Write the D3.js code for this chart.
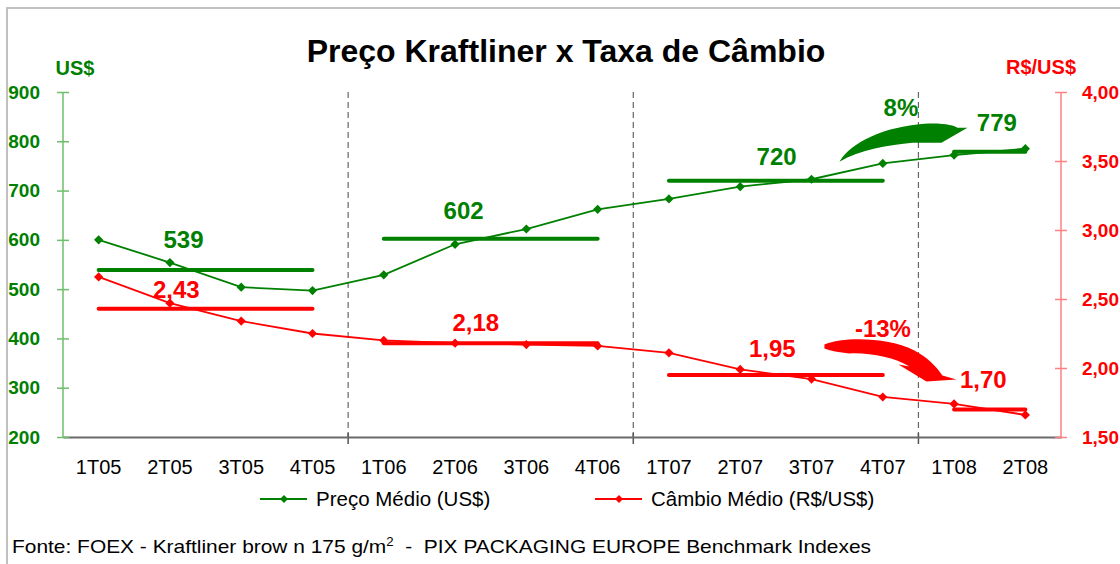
<!DOCTYPE html>
<html>
<head>
<meta charset="utf-8">
<script src="https://cdn.jsdelivr.net/npm/d3@7"></script>
<style>
  html, body { margin: 0; padding: 0; background: #fff; }
  svg { display: block; font-family: "Liberation Sans", Arial, sans-serif; }
</style>
</head>
<body>
<svg id="chart" width="1120" height="564"></svg>
<script>
// Dados
const quarters = ["1T05","2T05","3T05","4T05","1T06","2T06","3T06","4T06","1T07","2T07","3T07","4T07","1T08","2T08"];
const precoMedio  = [600, 554, 504, 497, 529, 591, 622, 662, 683, 708, 723, 755, 772, 785];
const cambioMedio = [2.66, 2.47, 2.34, 2.25, 2.20, 2.18, 2.17, 2.16, 2.11, 1.99, 1.92, 1.79, 1.74, 1.66];
const periodStart = ["1T05", "1T06", "1T07", "1T08"];
const periodEnd   = ["4T05", "4T06", "4T07", "2T08"];
const avgPreco    = [539, 602, 720, 779];
const avgCambio   = [2.43, 2.18, 1.95, 1.70];
const leftTicks   = [200, 300, 400, 500, 600, 700, 800, 900];
const rightTicks  = [1.5, 2.0, 2.5, 3.0, 3.5, 4.0];

// Layout
const plot = { left: 63, right: 1061, top: 92, bottom: 437 };
const GREEN = "#008000", RED = "#ff0000";
// posição dos rótulos: índice fracionário da banda e pixels acima da linha de média
const precoLabelPos  = [[1.69, 22], [5.62, 20], [10.01, 16], [13.1, 21]];
const cambioLabelPos = [[1.59, 11], [5.79, 12], [9.95, 18], [12.91, 21]];

const br = d3.formatLocale({ decimal: ",", thousands: ".", grouping: [3], currency: ["R$", ""], minus: "-" });
const fmtR = br.format(".2f");
const fmtPct = br.format(".0%");

const svg = d3.select("#chart");

// moldura
svg.append("rect")
  .attr("x", 7).attr("y", 8).attr("width", 1140).attr("height", 600)
  .attr("fill", "none").attr("stroke", "#c0c0c0").attr("stroke-width", 2);

// Escalas
const x = d3.scaleBand().domain(quarters).range([plot.left, plot.right]).padding(0);
const bw = x.bandwidth();
const cx = q => x(q) + bw / 2;
const yL = d3.scaleLinear().domain([200, 900]).range([plot.bottom, plot.top]);
const yR = d3.scaleLinear().domain([1.5, 4.0]).range([plot.bottom, plot.top]);

// Título
svg.append("text")
  .attr("x", 566).attr("y", 62)
  .attr("text-anchor", "middle")
  .attr("font-size", 32).attr("font-weight", "bold").attr("fill", "#000")
  .text("Preço Kraftliner x Taxa de Câmbio");

// linhas tracejadas entre os anos
["1T06", "1T07", "1T08"].forEach(q => {
  svg.append("line")
    .attr("x1", x(q)).attr("x2", x(q))
    .attr("y1", plot.top).attr("y2", plot.bottom)
    .attr("stroke", "#666").attr("stroke-width", 1.2)
    .attr("stroke-dasharray", "6,4");
  svg.append("line")
    .attr("x1", x(q)).attr("x2", x(q))
    .attr("y1", plot.bottom - 4).attr("y2", plot.bottom + 7)
    .attr("stroke", "#555").attr("stroke-width", 1.5);
});

// Eixo X
const xAxis = svg.append("g")
  .attr("transform", `translate(0,${plot.bottom})`)
  .call(d3.axisBottom(x).tickSize(0).tickPadding(23));
xAxis.select(".domain").attr("stroke", "#6b6b6b").attr("stroke-width", 2);
xAxis.selectAll("text").attr("font-size", 20).attr("fill", "#000")
  .attr("font-family", "'Liberation Sans', Arial, sans-serif");

// Eixo Y esquerdo
const axL = svg.append("g")
  .attr("transform", `translate(${plot.left},0)`)
  .call(d3.axisLeft(yL).tickValues(leftTicks).tickSize(6).tickPadding(17).tickFormat(d3.format("d")));
axL.select(".domain").attr("stroke", "#6cbf6c").attr("stroke-width", 1.5).attr("d", `M0,${plot.top}V${plot.bottom}`);
axL.selectAll(".tick line").attr("stroke", "#6cbf6c").attr("stroke-width", 1.5).attr("x1", 6).attr("x2", -6);
axL.selectAll("text").attr("font-size", 19).attr("font-weight", "bold").attr("fill", GREEN)
  .attr("font-family", "'Liberation Sans', Arial, sans-serif");

// Eixo Y direito
const axR = svg.append("g")
  .attr("transform", `translate(${plot.right},0)`)
  .call(d3.axisRight(yR).tickValues(rightTicks).tickSize(6).tickPadding(15).tickFormat(fmtR));
axR.select(".domain").attr("stroke", "#ff8080").attr("stroke-width", 1.5).attr("d", `M0,${plot.top}V${plot.bottom}`);
axR.selectAll(".tick line").attr("stroke", "#ff8080").attr("stroke-width", 1.5).attr("x1", -6).attr("x2", 6);
axR.selectAll("text").attr("font-size", 19).attr("font-weight", "bold").attr("fill", RED)
  .attr("font-family", "'Liberation Sans', Arial, sans-serif");

// títulos dos eixos
svg.append("text").attr("x", 75).attr("y", 75).attr("text-anchor", "middle")
  .attr("font-size", 20).attr("font-weight", "bold").attr("fill", GREEN).text("US$");
svg.append("text").attr("x", 1041).attr("y", 74).attr("text-anchor", "middle")
  .attr("font-size", 20).attr("font-weight", "bold").attr("fill", RED).text("R$/US$");

// linhas de média
avgPreco.forEach((v, i) => {
  svg.append("line")
    .attr("x1", cx(periodStart[i])).attr("x2", cx(periodEnd[i]))
    .attr("y1", yL(v)).attr("y2", yL(v))
    .attr("stroke", GREEN).attr("stroke-width", 4).attr("stroke-linecap", "round");
});
avgCambio.forEach((v, i) => {
  svg.append("line")
    .attr("x1", cx(periodStart[i])).attr("x2", cx(periodEnd[i]))
    .attr("y1", yR(v)).attr("y2", yR(v))
    .attr("stroke", RED).attr("stroke-width", 4).attr("stroke-linecap", "round");
});

// Séries
const diamond = s => `M0,${-s}L${s},0L0,${s}L${-s},0Z`;

function drawSeries(values, y, color) {
  const pts = values.map((v, i) => [cx(quarters[i]), y(v)]);
  svg.append("path")
    .attr("d", d3.line()(pts))
    .attr("fill", "none").attr("stroke", color).attr("stroke-width", 1.8);
  svg.append("g").selectAll("path")
    .data(pts).join("path")
    .attr("transform", d => `translate(${d[0]},${d[1]})`)
    .attr("d", diamond(4.6))
    .attr("fill", color);
}
drawSeries(precoMedio, yL, GREEN);
drawSeries(cambioMedio, yR, RED);

// rótulos das médias
avgPreco.forEach((v, i) => {
  svg.append("text")
    .attr("x", plot.left + precoLabelPos[i][0] * bw)
    .attr("y", yL(v) - precoLabelPos[i][1])
    .attr("text-anchor", "middle")
    .attr("font-size", 24).attr("font-weight", "bold").attr("fill", GREEN)
    .text(v);
});
avgCambio.forEach((v, i) => {
  svg.append("text")
    .attr("x", plot.left + cambioLabelPos[i][0] * bw)
    .attr("y", yR(v) - cambioLabelPos[i][1])
    .attr("text-anchor", "middle")
    .attr("font-size", 24).attr("font-weight", "bold").attr("fill", RED)
    .text(fmtR(v));
});

// setas de variação
const ax = x("1T08");
const gy = yL(avgPreco[3]);
const ry = yR(avgCambio[3]);
const shift = (pts, ox, oy) => pts.replace(/(-?\d+\.?\d*),(-?\d+\.?\d*)/g, (m, a, b) => `${+a + ox},${+b + oy}`);

svg.append("path")
  .attr("d", shift("M-79,10 C-67,-10 -34,-25 6,-28 C26,-29 36,-26 39,-24 L49,-24 L23,-9 L-6,-9 C-29,-7 -59,-2 -79,10 Z", ax, gy))
  .attr("fill", GREEN);
svg.append("text")
  .attr("x", ax - 17.5).attr("y", gy - 36)
  .attr("text-anchor", "middle")
  .attr("font-size", 24).attr("font-weight", "bold").attr("fill", GREEN)
  .text(fmtPct(Math.round((avgPreco[3] / avgPreco[2] - 1) * 100) / 100));

svg.append("path")
  .attr("d", shift("M-94,-65 C-74,-73 -29,-72 -4,-59 C9,-52 18,-43 24,-34 L38,-30 L8,-28 L-20,-45 L-9,-43 C-24,-52 -49,-57 -69,-56 C-79,-57 -89,-59 -94,-61 Z", ax, ry))
  .attr("fill", RED);
svg.append("text")
  .attr("x", ax - 35.5).attr("y", ry - 72)
  .attr("text-anchor", "middle")
  .attr("font-size", 24).attr("font-weight", "bold").attr("fill", RED)
  .text(fmtPct(Math.round((avgCambio[3] / avgCambio[2] - 1) * 100) / 100));

// Legenda
const legend = [
  { label: "Preço Médio (US$)", color: GREEN, x0: 260 },
  { label: "Câmbio Médio (R$/US$)", color: RED, x0: 595 }
];
const ly = 499;
legend.forEach(d => {
  svg.append("line")
    .attr("x1", d.x0).attr("x2", d.x0 + 47)
    .attr("y1", ly).attr("y2", ly)
    .attr("stroke", d.color).attr("stroke-width", 2);
  svg.append("path")
    .attr("transform", `translate(${d.x0 + 24},${ly})`)
    .attr("d", diamond(4)).attr("fill", d.color);
  svg.append("text")
    .attr("x", d.x0 + 56).attr("y", ly + 7)
    .attr("font-size", 20.5).attr("fill", "#000")
    .text(d.label);
});

// Fonte
const fonte = svg.append("text")
  .attr("x", 12).attr("y", 553)
  .attr("font-size", 19).attr("fill", "#000")
  .attr("textLength", 859).attr("lengthAdjust", "spacingAndGlyphs");
fonte.append("tspan").text("Fonte: FOEX - Kraftliner brow n 175 g/m");
fonte.append("tspan").attr("font-size", 12).attr("dy", -7).text("2");
fonte.append("tspan").attr("dy", 7).text("  -  PIX PACKAGING EUROPE Benchmark Indexes");
fonte.attr("xml:space", "preserve");
</script>
</body>
</html>
